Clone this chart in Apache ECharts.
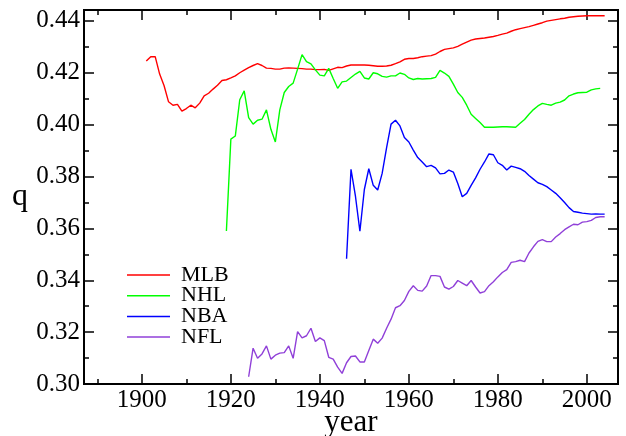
<!DOCTYPE html>
<html>
<head>
<meta charset="utf-8">
<script src="https://cdn.jsdelivr.net/npm/echarts@6/dist/echarts.min.js"></script>
<style>html,body{margin:0;padding:0;background:#fff}#c{width:626px;height:436px}</style>
</head>
<body>
<div id="c"></div>
<script>
const seriesNames = ['MLB', 'NHL', 'NBA', 'NFL'];
const seriesColors = ['#ff0000', '#00ff00', '#0000ff', '#9040d8'];

const mlbStart = 1901;
const mlbQ = [0.4245,0.4262,0.4262,0.4195,0.4150,0.4088,0.4075,0.4078,0.4052,0.4062,
  0.4075,0.4065,0.4083,0.4111,0.4121,0.4137,0.4152,0.4170,0.4173,0.4180,
  0.4188,0.4200,0.4210,0.4220,0.4228,0.4235,0.4228,0.4218,0.4217,0.4214,
  0.4214,0.4218,0.4219,0.4218,0.4217,0.4216,0.4214,0.4214,0.4212,0.4212,
  0.4213,0.4209,0.4215,0.4221,0.4220,0.4226,0.4230,0.4230,0.4230,0.4230,
  0.4229,0.4227,0.4225,0.4225,0.4226,0.4229,0.4235,0.4242,0.4252,0.4255,
  0.4255,0.4258,0.4262,0.4264,0.4266,0.4272,0.4282,0.4290,0.4293,0.4296,
  0.4302,0.4310,0.4318,0.4326,0.4330,0.4332,0.4334,0.4337,0.4340,0.4344,
  0.4349,0.4353,0.4360,0.4366,0.4370,0.4374,0.4378,0.4383,0.4388,0.4393,
  0.4399,0.4402,0.4405,0.4408,0.4410,0.4414,0.4416,0.4418,0.4419,0.4420,
  0.4420,0.4420,0.4420,0.4420];

const nhlStart = 1919;
const nhlQ = [0.3590,0.3944,0.3956,0.4096,0.4130,0.4027,0.4002,0.4017,0.4021,0.4057,
  0.3982,0.3933,0.4057,0.4124,0.4147,0.4160,0.4214,0.4270,0.4243,0.4234,
  0.4211,0.4191,0.4188,0.4217,0.4178,0.4140,0.4165,0.4168,0.4182,0.4195,
  0.4205,0.4180,0.4176,0.4200,0.4196,0.4186,0.4183,0.4188,0.4188,0.4199,
  0.4194,0.4180,0.4174,0.4178,0.4176,0.4177,0.4178,0.4182,0.4209,0.4199,
  0.4186,0.4156,0.4124,0.4105,0.4075,0.4040,0.4024,0.4008,0.3990,0.3990,
  0.3990,0.3991,0.3992,0.3992,0.3991,0.3990,0.4005,0.4020,0.4040,0.4058,
  0.4072,0.4082,0.4078,0.4075,0.4083,0.4087,0.4095,0.4111,0.4118,0.4123,
  0.4124,0.4125,0.4134,0.4138,0.4140];

const nbaStart = 1946;
const nbaQ = [0.3483,0.3828,0.3724,0.3589,0.3750,0.3830,0.3766,0.3748,0.3812,0.3911,
  0.4002,0.4017,0.3995,0.3950,0.3933,0.3902,0.3873,0.3856,0.3838,0.3843,
  0.3833,0.3810,0.3812,0.3825,0.3817,0.3773,0.3722,0.3735,0.3766,0.3795,
  0.3828,0.3856,0.3887,0.3884,0.3853,0.3843,0.3825,0.3840,0.3835,0.3830,
  0.3820,0.3804,0.3790,0.3776,0.3770,0.3761,0.3748,0.3735,0.3718,0.3700,
  0.3680,0.3665,0.3662,0.3659,0.3657,0.3655,0.3656,0.3655,0.3655];

const nflStart = 1924;
const nflQ = [0.3028,0.3138,0.3099,0.3116,0.3147,0.3096,0.3111,0.3119,0.3121,0.3147,
  0.3099,0.3202,0.3178,0.3186,0.3215,0.3164,0.3178,0.3167,0.3103,0.3096,
  0.3065,0.3041,0.3082,0.3106,0.3108,0.3085,0.3085,0.3129,0.3173,0.3157,
  0.3177,0.3215,0.3250,0.3294,0.3302,0.3322,0.3357,0.3379,0.3361,0.3358,
  0.3378,0.3418,0.3418,0.3415,0.3374,0.3366,0.3376,0.3399,0.3389,0.3379,
  0.3399,0.3374,0.3351,0.3356,0.3379,0.3394,0.3413,0.3430,0.3441,0.3469,
  0.3472,0.3477,0.3472,0.3505,0.3529,0.3550,0.3557,0.3549,0.3549,0.3567,
  0.3580,0.3595,0.3606,0.3616,0.3614,0.3624,0.3626,0.3631,0.3642,0.3645,
  0.3645];

const xMajorTicks = [1900, 1920, 1940, 1960, 1980, 2000];
const xMinorTicks = [1890, 1910, 1930, 1950, 1970, 1990];
const yMajorTicks = [0.30, 0.32, 0.34, 0.36, 0.38, 0.40, 0.42, 0.44];
const yMinorTicks = [0.31, 0.33, 0.35, 0.37, 0.39, 0.41, 0.43];

const X_MIN = 1887, X_MAX = 2007, Y_MIN = 0.30, Y_MAX = 0.4442;
const FONT = 'Liberation Serif';

function pairs(start, arr) { return arr.map((v, i) => [start + i, v]); }

function axis(type, position, ticks, len, labels) {
  const a = {
    type: 'value', position: position,
    min: type === 'x' ? X_MIN : Y_MIN, max: type === 'x' ? X_MAX : Y_MAX,
    axisLine: { show: true, onZero: false, lineStyle: { color: '#000', width: 2 } },
    splitLine: { show: false },
    axisTick: { show: true, inside: true, length: len, customValues: ticks,
      lineStyle: { color: '#000', width: 1.5 } },
    axisLabel: { show: false }
  };
  if (labels) {
    a.axisLabel = {
      show: true, customValues: ticks, color: '#000', fontFamily: FONT, fontSize: 25,
      margin: 4,
      formatter: type === 'x' ? (v => String(Math.round(v))) : (v => v.toFixed(2))
    };
  }
  return a;
}

const xAxes = [
  axis('x', 'bottom', xMajorTicks, 10, true),
  axis('x', 'bottom', xMinorTicks, 5, false),
  axis('x', 'top', xMajorTicks, 10, false),
  axis('x', 'top', xMinorTicks, 5, false)
];
Object.assign(xAxes[0], { name: 'year', nameLocation: 'middle', nameGap: 23, nameMoveOverlap: false,
  nameTextStyle: { fontFamily: FONT, fontSize: 31, color: '#000' } });

const yAxes = [
  axis('y', 'left', yMajorTicks, 10, true),
  axis('y', 'left', yMinorTicks, 5, false),
  axis('y', 'right', yMajorTicks, 10, false),
  axis('y', 'right', yMinorTicks, 5, false)
];
Object.assign(yAxes[0], { name: 'q', nameLocation: 'middle', nameGap: 56, nameRotate: 0, nameMoveOverlap: false,
  nameTextStyle: { fontFamily: FONT, fontSize: 32, color: '#000', padding: [0, 0, 18, 0] } });

const allData = [pairs(mlbStart, mlbQ), pairs(nhlStart, nhlQ), pairs(nbaStart, nbaQ), pairs(nflStart, nflQ)];

const chart = echarts.init(document.getElementById('c'), null, { renderer: 'canvas' });
chart.setOption({
  animation: false,
  backgroundColor: '#fff',
  grid: { left: 84, top: 10, right: 8, bottom: 52, containLabel: false, outerBoundsMode: 'none' },
  xAxis: xAxes,
  yAxis: yAxes,
  legend: {
    data: seriesNames, orient: 'vertical', left: 127, top: 264, padding: 0,
    itemGap: -1.3, itemWidth: 43, itemHeight: 1.5, icon: 'rect', selectedMode: false,
    textStyle: { fontFamily: FONT, fontSize: 22, color: '#000', padding: [0, 0, 0, 6] }
  },
  series: seriesNames.map((n, i) => ({
    name: n, type: 'line', xAxisIndex: 0, yAxisIndex: 0,
    data: allData[i], showSymbol: false, symbol: 'none',
    itemStyle: { color: seriesColors[i] },
    lineStyle: { color: seriesColors[i], width: 1.4 }
  }))
});
</script>
</body>
</html>
